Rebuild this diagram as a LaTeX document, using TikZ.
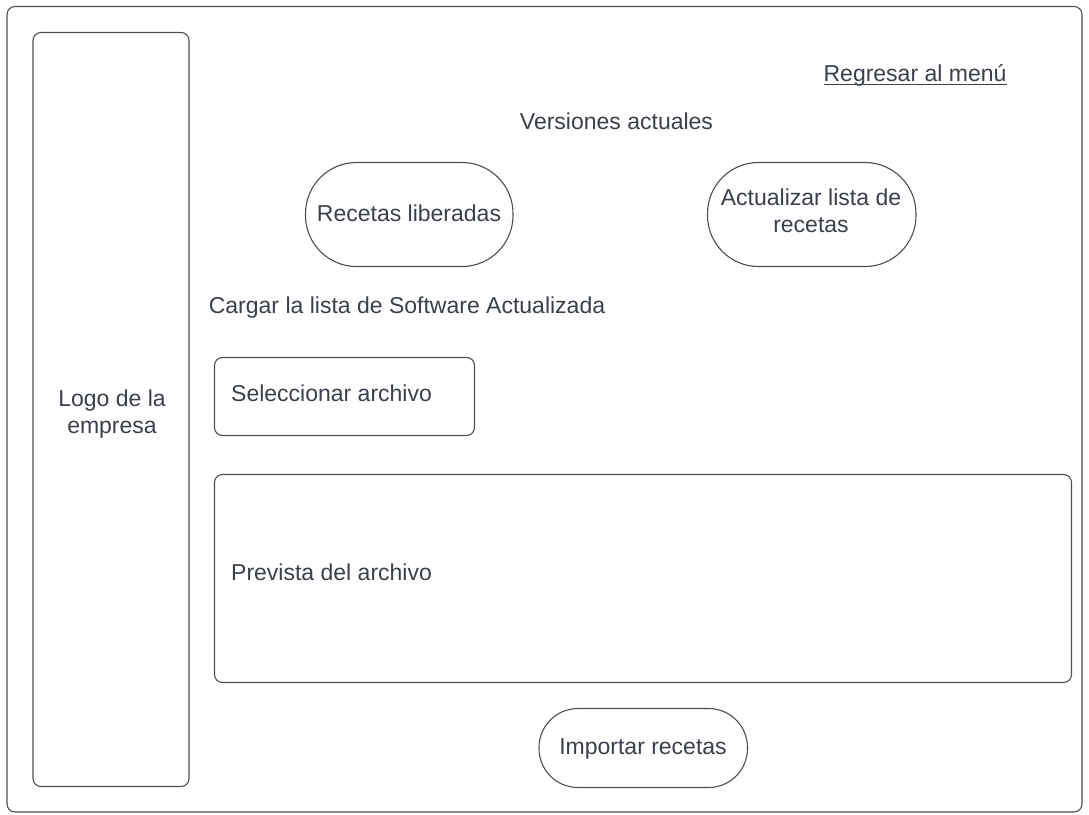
\documentclass[tikz,border=0pt]{standalone}
\usepackage{fontspec}
\setmainfont{Liberation Sans}
\definecolor{linec}{HTML}{4A5058}
\definecolor{textc}{HTML}{3A414A}
\begin{document}
\begin{tikzpicture}[x=1pt,y=-1pt,
  box/.style={draw=linec,line width=1.1pt,rounded corners=#1},
  box/.default=6pt,
  lab/.style={font=\fontsize{23}{27.5}\selectfont,text=textc,inner sep=0pt,align=center}]
\useasboundingbox (0,0) rectangle (1089,814);
\fill[white] (0,0) rectangle (1089,814);
\draw[box=8pt] (7,6.5) rectangle (1082,812);
\draw[box=8pt] (33,32.5) rectangle (189,786.5);
\node[lab] (logotxt) at (112,414) {Logo de la\\empresa};
\node[lab] (menu) at (915,75) {Regresar al menú};
\draw[textc,line width=1.1pt] (824,84.5) -- (1007,84.5);
\node[lab] (vers) at (616.5,121) {Versiones actuales};
\draw[box=51pt] (305.5,162.5) rectangle (513,266.5);
\node[lab] (lib) at (409,213.5) {Recetas liberadas};
\draw[box=51pt] (707.5,162.5) rectangle (916,266.5);
\node[lab] (act) at (811,211) {Actualizar lista de\\recetas};
\node[lab] (carga) at (407,308) {Cargar la lista de Software Actualizada};
\draw[box=8pt] (214.5,357.5) rectangle (474.5,435.5);
\node[lab,anchor=west] (sel) at (231,393) {Seleccionar archivo};
\draw[box=8pt] (214.5,474.5) rectangle (1071.5,682.5);
\node[lab,anchor=west] (prev) at (231,572) {Prevista del archivo};
\draw[box=39pt] (539,708.5) rectangle (747.5,787.5);
\node[lab] (imp) at (643,749) {Importar recetas};
\end{tikzpicture}
\end{document}
